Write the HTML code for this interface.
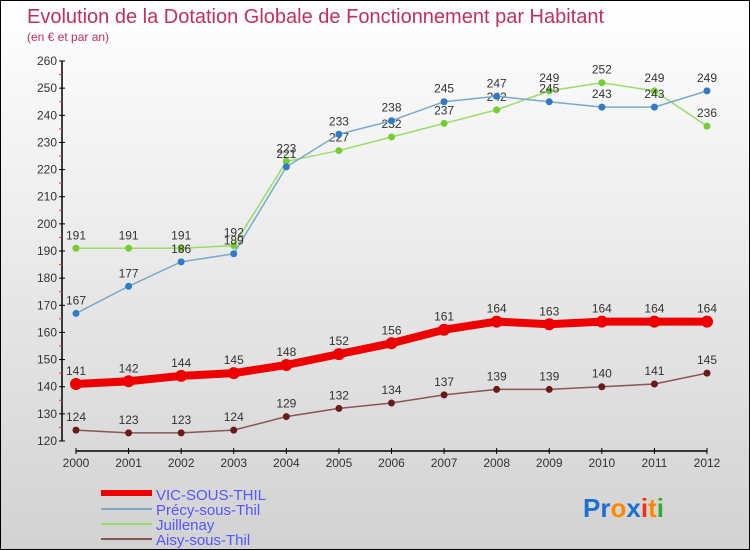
<!DOCTYPE html>
<html><head><meta charset="utf-8"><style>
body{margin:0}
#c{width:750px;height:550px;position:relative;box-sizing:border-box;border:1px solid #000;background:linear-gradient(#ffffff,#d2d2d2);font-family:"Liberation Sans",sans-serif;overflow:hidden}
svg text{font-family:"Liberation Sans",sans-serif}
</style></head><body>
<div id="c">
<svg id="s" width="750" height="550">
<text x="26" y="22" font-size="20" fill="#c0305a">Evolution de la Dotation Globale de Fonctionnement par Habitant</text>
<text x="26" y="40" font-size="12" fill="#c0305a">(en € et par an)</text>
<g id="axes"></g><g id="series"></g>
<g>
<line x1="100" y1="492" x2="151" y2="492" stroke="#ee0000" stroke-width="6"/>
<text x="155" y="499" font-size="15" fill="#5555ff">VIC-SOUS-THIL</text>
<line x1="100" y1="508" x2="151" y2="508" stroke="#79a9cc" stroke-width="2"/>
<text x="155" y="514" font-size="15" fill="#5555ff">Précy-sous-Thil</text>
<line x1="100" y1="523" x2="151" y2="523" stroke="#99dd66" stroke-width="2"/>
<text x="155" y="529" font-size="15" fill="#5555ff">Juillenay</text>
<line x1="100" y1="538" x2="151" y2="538" stroke="#8b5555" stroke-width="2"/>
<text x="155" y="544" font-size="15" fill="#5555ff">Aisy-sous-Thil</text>
</g>
<g font-size="26" font-weight="bold">
<text x="582" y="516"><tspan fill="#1e6fd0">Pr</tspan><tspan fill="#ff8800">o</tspan><tspan fill="#1e6fd0">x</tspan><tspan fill="#ee3311">i</tspan><tspan fill="#ff8800">t</tspan><tspan fill="#33aa33">i</tspan></text>
</g>
</svg></div>
<script>
const years=[2000,2001,2002,2003,2004,2005,2006,2007,2008,2009,2010,2011,2012];
const yTicks=[120,130,140,150,160,170,180,190,200,210,220,230,240,250,260];
const vic=[141,142,144,145,148,152,156,161,164,163,164,164,164];
const precy=[167,177,186,189,221,233,238,245,247,245,243,243,249];
const juillenay=[191,191,191,192,223,227,232,237,242,249,252,249,236];
const aisy=[124,123,123,124,129,132,134,137,139,139,140,141,145];
const NS="http://www.w3.org/2000/svg";
const X=i=>75+i*(706-75)/(years.length-1);
const Y=v=>440-(v-120)*(380/140);
function mk(t,a,p){const e=document.createElementNS(NS,t);for(const k in a)e.setAttribute(k,a[k]);p.appendChild(e);return e;}
const ax=document.getElementById('axes');
const yAxis=mk('line',{x1:61,y1:60,x2:61,y2:440,stroke:'#000','stroke-width':1.5},ax);


yTicks.forEach(v=>{
 mk('line',{x1:58,y1:Y(v),x2:64,y2:Y(v),stroke:'#000'},ax);
 if(v<260) mk('line',{x1:58,y1:Y(v+5),x2:61,y2:Y(v+5),stroke:'#ff3333'},ax);
 const t=mk('text',{x:56,y:Y(v)+4,'font-size':12,fill:'#333','text-anchor':'end'},ax);t.textContent=v;
 
 
});
const xAxis=mk('line',{x1:75,y1:450,x2:706,y2:450,stroke:'#000','stroke-width':1.5},ax);


years.forEach((y,i)=>{
 mk('line',{x1:X(i),y1:447,x2:X(i),y2:453,stroke:'#000'},ax);
 const t=mk('text',{x:X(i),y:466,'font-size':12,fill:'#333','text-anchor':'middle'},ax);t.textContent=y;
 
 
});
const sg=document.getElementById('series');
function series(d,name,lc,pc,w,r){
 const g=mk('g',{},sg);
 
 
 const pl=mk('polyline',{points:d.map((v,i)=>X(i)+','+Y(v)).join(' '),fill:'none',stroke:lc,'stroke-width':w,'stroke-linejoin':'round'},g);
 
 
 d.forEach((v,i)=>{
  const c=mk('circle',{cx:X(i),cy:Y(v),r:r,fill:pc},g);
  
  
  const t=mk('text',{x:X(i),y:Y(v)-9,'font-size':12,fill:'#333','text-anchor':'middle'},g);t.textContent=v;
  
  
 });
}
series(aisy,'aisy','#8b5555','#6b1a1a',1.5,3.5);
series(juillenay,'juillenay','#99dd66','#77cc33',1.5,3.5);
series(precy,'precy','#79a9cc','#2e7bc8',1.5,3.5);
series(vic,'vic','#ee0000','#ee0000',8,6);
</script>
</body></html>
